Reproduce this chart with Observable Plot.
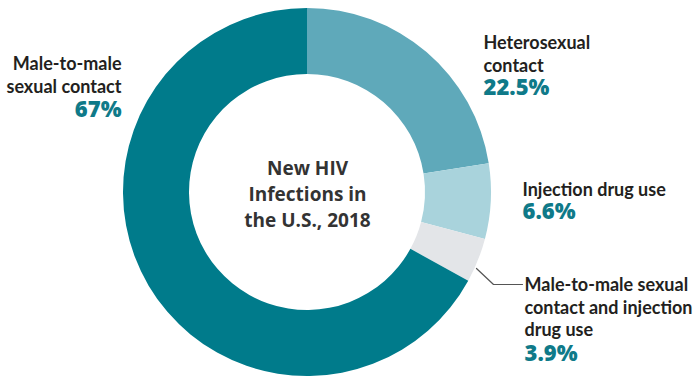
<!DOCTYPE html>
<html>
<head>
<meta charset="utf-8">
<script src="https://cdn.jsdelivr.net/npm/d3@7"></script>
<script src="https://cdn.jsdelivr.net/npm/@observablehq/plot@0.6"></script>
<style>
  html, body { margin: 0; padding: 0; background: #fff; }
  #chart svg { display: block; }
</style>
</head>
<body>
<div id="chart"></div>
<script>
// ---- data ----
const categories = [
  "Heterosexual contact",
  "Injection drug use",
  "Male-to-male sexual contact and injection drug use",
  "Male-to-male sexual contact"
];
const shares = [22.5, 6.6, 3.9, 67];
const sliceColors = ["#5fa9ba", "#a9d3dc", "#e3e5e8", "#007b8b"];
const labelLines = [
  "Heterosexual\ncontact",
  "Injection drug use",
  "Male-to-male sexual\ncontact and injection\ndrug use",
  "Male-to-male\nsexual contact"
];
const pctLabels = ["22.5%", "6.6%", "3.9%", "67%"];
const centerTitle = "New HIV\nInfections in\nthe U.S., 2018";

// ---- layout (pixel-space scales) ----
const W = 700, H = 389;
const cx = 307, cy = 192, outerR = 184, innerR = 118;

const slices = categories.map((c, i) => ({category: c, value: shares[i], color: sliceColors[i]}));

const labelFont = "Lato, 'Open Sans', sans-serif";

const labels = [
  {text: labelLines[0], pct: pctLabels[0], x: 483, top: 32, pctTop: 79, anchor: "start"},
  {text: labelLines[1], pct: pctLabels[1], x: 522, top: 179, pctTop: 203, anchor: "start"},
  {text: labelLines[2], pct: pctLabels[2], x: 524, top: 274, pctTop: 345, anchor: "start"},
  {text: labelLines[3], pct: pctLabels[3], x: 121, top: 53, pctTop: 101, anchor: "end"}
];
const startLabels = labels.filter(d => d.anchor === "start");
const endLabels = labels.filter(d => d.anchor === "end");

function donut(index, scales, values, dimensions, context) {
  const pie = d3.pie().value(d => d.value).sort(null)(slices);
  const arc = d3.arc().innerRadius(innerR).outerRadius(outerR);
  const g = d3.create("svg:g")
    .attr("transform", `translate(${scales.x(cx)},${scales.y(cy)})`);
  g.selectAll("path").data(pie).join("path")
    .attr("d", arc)
    .attr("fill", d => d.data.color);
  return g.node();
}

const leader = [
  {x: 476, y: 268}, {x: 493, y: 284}, {x: 522, y: 284}
];

function labelMarks(data, anchor) {
  return [
    Plot.text(data, {
      x: "x", y: "top", text: "text", textAnchor: anchor,
      lineAnchor: "top", lineHeight: 1.27,
      fontSize: 18, fontWeight: 700, fill: "#231f20", fontFamily: labelFont
    }),
    Plot.text(data, {
      x: "x", y: "pctTop", text: "pct", textAnchor: anchor,
      lineAnchor: "top",
      fontSize: 22, fontWeight: 800, fill: "#0f7a89", fontFamily: "'Open Sans', sans-serif"
    })
  ];
}

const chart = Plot.plot({
  width: W,
  height: H,
  margin: 0,
  x: {domain: [0, W], range: [0, W], axis: null},
  y: {domain: [0, H], range: [0, H], axis: null},
  style: {background: "#fff"},
  marks: [
    donut,
    Plot.line(leader, {x: "x", y: "y", stroke: "#555", strokeWidth: 1.2}),
    ...labelMarks(startLabels, "start"),
    ...labelMarks(endLabels, "end"),
    Plot.text([centerTitle], {
      x: () => cx, y: () => 156, text: d => d,
      lineAnchor: "top", lineHeight: 1.36,
      fontSize: 19, fontWeight: 700, fill: "#333", fontFamily: "'Open Sans', sans-serif"
    })
  ]
});
document.getElementById("chart").appendChild(chart);
</script>
</body>
</html>
